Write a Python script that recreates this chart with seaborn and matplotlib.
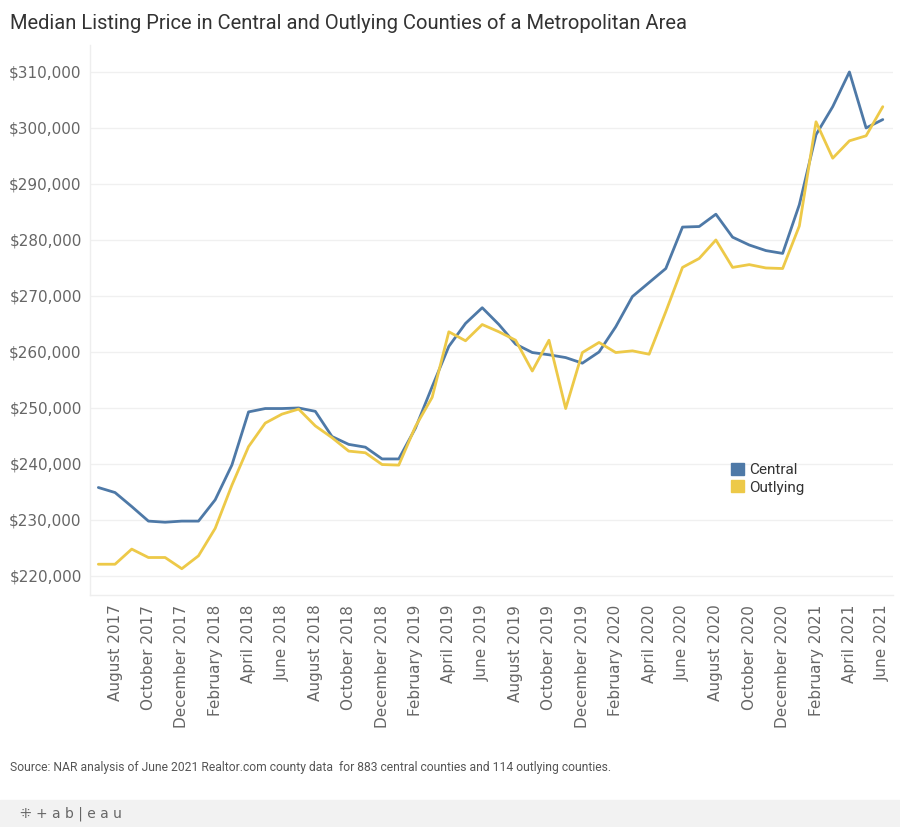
import matplotlib.pyplot as plt
import matplotlib.patches as mpatches
import pandas as pd
import seaborn as sns

months = pd.date_range("2017-07-01", periods=48, freq="MS")

central = [235800, 234900, 232400, 229800, 229600, 229800, 229800, 233600,
           239800, 249300, 249900, 249900, 250000, 249400, 244900, 243500,
           243000, 240900, 240900, 246400, 253800, 261000, 265100, 267900,
           264900, 261400, 259900, 259500, 259000, 258000, 260000, 264500,
           269900, 272400, 274900, 282300, 282400, 284600, 280500, 279100,
           278100, 277600, 286300, 298800, 303800, 310000, 300000, 301500]

outlying = [222100, 222100, 224800, 223300, 223300, 221300, 223600, 228500,
            236200, 243100, 247300, 248900, 249800, 246800, 244700, 242300,
            242000, 239900, 239800, 246700, 251900, 263600, 262000, 264900,
            263600, 262100, 256600, 262100, 249900, 259900, 261700, 259900,
            260200, 259600, 267200, 275100, 276700, 280000, 275100, 275600,
            275000, 274900, 282500, 301100, 294600, 297700, 298600, 303800]

series_names = ["Central", "Outlying"]
colors = {"Central": "#4E79A7", "Outlying": "#EDC948"}
y_ticks = [220000, 230000, 240000, 250000, 260000, 270000, 280000, 290000, 300000, 310000]

df = pd.DataFrame({
    "pos": list(range(len(months))) * 2,
    "price": central + outlying,
    "county": ["Central"] * len(central) + ["Outlying"] * len(outlying),
})

sns.set_style("white")
plt.rcParams["font.family"] = ["DejaVu Sans"]

fig = plt.figure(figsize=(9, 8.27), dpi=100)
ax = fig.add_axes([0.1, 0.2805, 0.892, 0.665])

sns.lineplot(data=df, x="pos", y="price", hue="county", hue_order=series_names,
             palette=colors, linewidth=2.0, ax=ax, legend=False)

ax.set_xlim(-0.5, 47.6)
ax.set_ylim(216600, 314800)
ax.set_yticks(y_ticks)
ax.set_yticklabels([f"${v:,.0f}" for v in y_ticks], fontsize=11, color="#666666")
tick_pos = list(range(1, len(months), 2))
ax.set_xticks(tick_pos)
ax.set_xticklabels([months[i].strftime("%B %Y") for i in tick_pos],
                   rotation=90, fontsize=11, color="#666666")
ax.set_xticks(range(len(months)), minor=True)
ax.tick_params(axis="x", which="major", length=3, color="#e6e6e6", pad=4)
ax.tick_params(axis="x", which="minor", length=3, color="#e6e6e6")
ax.tick_params(axis="y", length=0, pad=6)
ax.set_xlabel("")
ax.set_ylabel("")

ax.grid(axis="y", color="#f0f0f0", linewidth=1)
for side in ["top", "right"]:
    ax.spines[side].set_visible(False)
for side in ["left", "bottom"]:
    ax.spines[side].set_color("#eeeeee")
    ax.spines[side].set_linewidth(1)

handles = [mpatches.Patch(color=colors[n], label=n) for n in series_names]
leg = fig.legend(handles=handles, loc="upper left", bbox_to_anchor=(0.797, 0.457),
                 frameon=False, handlelength=0.85, handleheight=0.85,
                 handletextpad=0.35, labelspacing=0.2,
                 prop={"family": "Roboto", "size": 11})
for t in leg.get_texts():
    t.set_color("#333333")

fig.text(0.011, 0.972, "Median Listing Price in Central and Outlying Counties of a Metropolitan Area",
         fontsize=14.5, family="Roboto", color="#333333", va="center")
fig.text(0.011, 0.072, "Source: NAR analysis of June 2021 Realtor.com county data  for 883 central counties and 114 outlying counties.",
         fontsize=8.7, family="Roboto", color="#555555", va="center")

footer = mpatches.Rectangle((0, 0), 1, 0.033, transform=fig.transFigure,
                            color="#f2f2f2", zorder=0)
fig.patches.append(footer)
fig.text(0.022, 0.0165, "⁜ + a b | e a u", fontsize=10, color="#666666",
         va="center", family="DejaVu Sans")

fig.savefig("out.png", dpi=100)
